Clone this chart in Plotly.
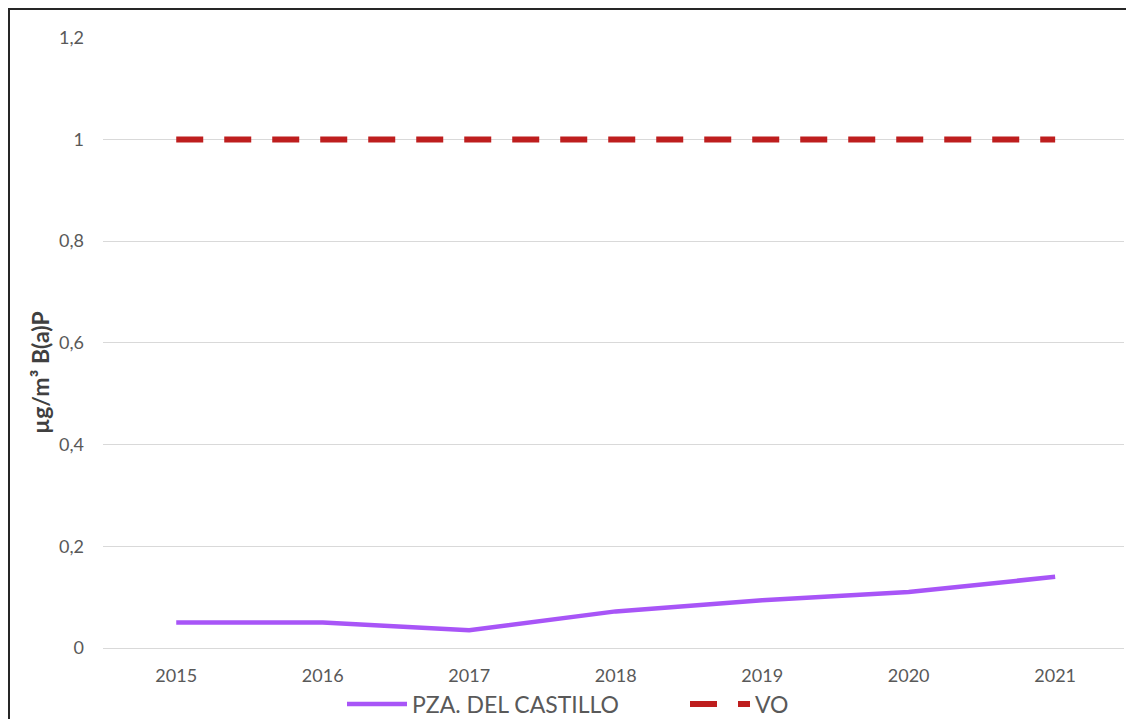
import plotly.graph_objects as go

years = ["2015", "2016", "2017", "2018", "2019", "2020", "2021"]
castillo = [0.05, 0.05, 0.035, 0.072, 0.094, 0.11, 0.14]
vo = [1, 1, 1, 1, 1, 1, 1]
y_ticks = [0, 0.2, 0.4, 0.6, 0.8, 1, 1.2]

fig = go.Figure()
fig.add_trace(go.Scatter(x=years, y=castillo, mode="lines", name="PZA. DEL CASTILLO",
                         line=dict(color="#A855F7", width=4.5)))
fig.add_trace(go.Scatter(x=years, y=vo, mode="lines", name="VO",
                         line=dict(color="#BE1E1E", width=6, dash="27px,21px")))

OFF = 8  # page body margin
W, H = 1118, 711
# plot area in page coords
X0, X1, Y0, Y1 = 103, 1124, 37, 648
L, R, T, B = X0 - OFF, W - (X1 - OFF), Y0 - OFF, H - (Y1 - OFF)
pw, ph = W - L - R, H - T - B
def px(xpage): return (xpage - OFF - L) / pw
def py(ypage): return 1 - (ypage - OFF - T) / ph

fig.update_layout(
    width=W, height=H,
    margin=dict(l=L, r=R, t=T, b=B, autoexpand=False),
    paper_bgcolor="white", plot_bgcolor="white",
    separators=", ",
    font=dict(family="Lato, 'Open Sans', sans-serif", color="#595959", size=18),
    showlegend=True,
    legend=dict(orientation="h", x=px(342), xanchor="left", y=py(704), yanchor="middle",
                font=dict(size=23, color="#595959"), entrywidth=268, entrywidthmode="pixels",
                bgcolor="rgba(0,0,0,0)", itemwidth=60),
    xaxis=dict(type="category", range=[-0.5, 6.47], showgrid=False, showline=False,
               ticks="", ticklabelstandoff=15, tickfont=dict(size=18, color="#595959"),
               zeroline=False, fixedrange=True, automargin=False),
    yaxis=dict(range=[0, 1.2015], tickvals=y_ticks, showgrid=True, gridcolor="#D9D9D9",
               gridwidth=1, zeroline=True, zerolinecolor="#D9D9D9", zerolinewidth=1,
               showline=False, ticks="", ticklabelstandoff=18, automargin=False,
               tickfont=dict(size=18, color="#595959")),
    annotations=[
        dict(text="<b>µg/m³ B(a)P</b>", textangle=-90, xref="paper", yref="paper",
             x=px(40), y=py(373), xanchor="center", yanchor="middle", showarrow=False,
             font=dict(size=23, color="#404040")),
    ],
    shapes=[
        dict(type="line", xref="paper", yref="paper", x0=px(9), x1=px(9), y0=py(7), y1=py(760),
             line=dict(color="#262626", width=2)),
        dict(type="line", xref="paper", yref="paper", x0=px(8), x1=px(1160), y0=py(9), y1=py(9),
             line=dict(color="#262626", width=2)),
    ],
)

fig.write_html("out.html")
